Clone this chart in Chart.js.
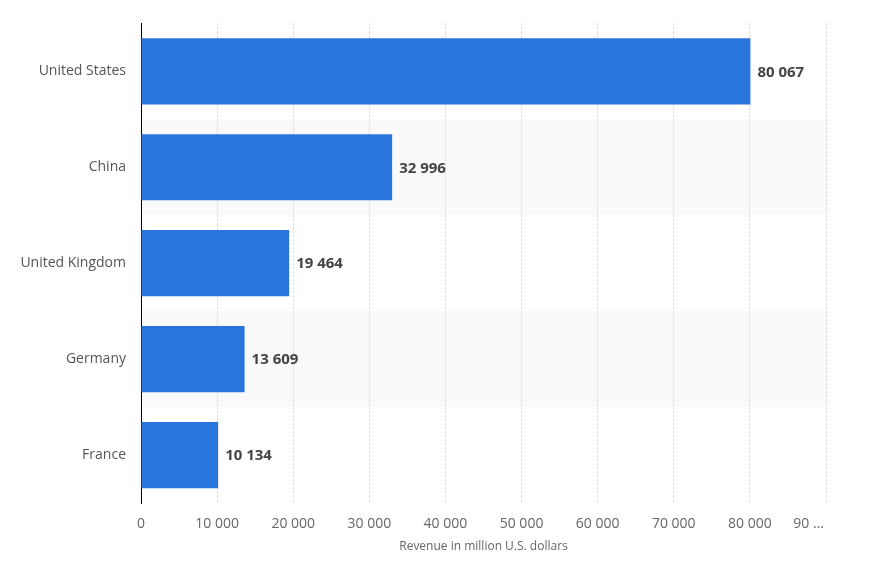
<!DOCTYPE html>
<html>
<head>
<meta charset="utf-8">
<script src="https://cdn.jsdelivr.net/npm/chart.js@4/dist/chart.umd.min.js"></script>
<style>
  html, body { margin: 0; padding: 0; background: #fff; }
</style>
</head>
<body>
<canvas id="revenueChart" width="872" height="574"></canvas>
<script>
// 데이터
const countries = ['United States', 'China', 'United Kingdom', 'Germany', 'France'];
const revenue = [80067, 32996, 19464, 13609, 10134];
const tickLabels = ['0', '10 000', '20 000', '30 000', '40 000', '50 000', '60 000', '70 000', '80 000', '90 …\u2003\u2003\u2002'];

const fmt = (v) => String(v).replace(/\B(?=(\d{3})+(?!\d))/g, ' ');

// 줄무늬 배경 (China, Germany 행)
const stripes = {
  id: 'stripes',
  beforeDraw(chart) {
    const { ctx, chartArea, scales } = chart;
    const y = scales.y;
    const step = y.getPixelForValue(1) - y.getPixelForValue(0);
    ctx.save();
    ctx.fillStyle = '#fafafa';
    countries.forEach((c, i) => {
      if (i % 2 === 1) {
        const cy = y.getPixelForValue(i);
        ctx.fillRect(chartArea.left, cy - step / 2, chartArea.right - chartArea.left, step);
      }
    });
    ctx.restore();
  }
};

// 막대 끝 값 표시
const valueLabels = {
  id: 'valueLabels',
  afterDatasetsDraw(chart) {
    const { ctx } = chart;
    const meta = chart.getDatasetMeta(0);
    ctx.save();
    ctx.font = 'bold 15px "Open Sans"';
    ctx.fillStyle = '#444';
    ctx.textBaseline = 'middle';
    ctx.textAlign = 'left';
    meta.data.forEach((bar, i) => {
      ctx.fillText(fmt(revenue[i]), bar.x + 7, bar.y + 1);
    });
    ctx.restore();
  }
};

const ctx = document.getElementById('revenueChart');
new Chart(ctx, {
  type: 'bar',
  data: {
    labels: countries,
    datasets: [{
      data: revenue,
      backgroundColor: '#2876dd',
      borderWidth: 0,
      categoryPercentage: 0.69,
      barPercentage: 1,
    }],
  },
  options: {
    indexAxis: 'y',
    responsive: false,
    animation: false,
    layout: { padding: { top: 23, right: 46, bottom: 20, left: 0 } },
    plugins: {
      legend: { display: false },
      tooltip: { enabled: false },
    },
    scales: {
      x: {
        min: 0,
        max: 90000,
        afterFit(scale) { scale.height = 51; },
        afterBuildTicks(scale) {
          scale.ticks = tickLabels.map((t, i) => ({ value: i * 10000 }));
        },
        ticks: {
          autoSkip: false,
          maxRotation: 0,
          padding: 13,
          color: '#666',
          font: { family: 'Open Sans', size: 14 },
          callback: (v, i) => tickLabels[i],
        },
        grid: { color: '#d2d2d2', drawTicks: false, lineWidth: 1 },
        border: { display: false, dash: [2, 2] },
        title: {
          display: true,
          text: 'Revenue in million U.S. dollars',
          color: '#666',
          font: { family: 'Open Sans', size: 12 },
          padding: 0,
        },
      },
      y: {
        afterFit(scale) { scale.width = 141; },
        ticks: {
          padding: 15,
          color: '#555',
          font: { family: 'Open Sans', size: 14 },
        },
        grid: { display: false, drawTicks: false },
        border: { display: true, color: '#000', width: 1 },
      },
    },
  },
  plugins: [stripes, valueLabels],
});
</script>
</body>
</html>
